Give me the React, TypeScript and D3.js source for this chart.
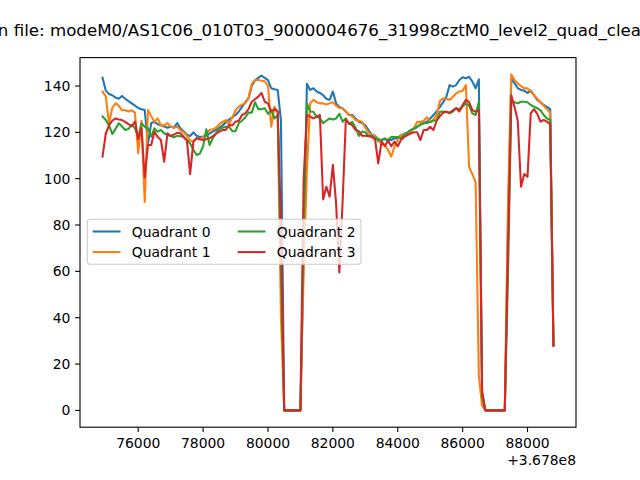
import * as d3 from 'd3'

// light curve: counts per 100 s bin, times relative to the +3.678e8 offset
const timeOffsetLabel = '+3.678e8'
const binStart = 74900
const binSize = 100

const quadrant0 = [
  143.5, 138, 136.5, 136, 135, 134.5, 135.7, 134.5, 133.5, 132.5,
  131.5, 130.5, 130, 129.6, 115, 124, 124.5, 123.5, 123, 122.5,
  122, 122.5, 122, 124, 121.7, 120.5, 119, 118.4, 120, 118.5,
  118, 118.2, 118.5, 119.5, 120.3, 121, 122, 123, 124.3, 125.5,
  126.5, 127.5, 129, 131, 133, 134.7, 140, 142.5, 143.5, 144.5,
  143.5, 142.5, 139, 138.6, 138.3, 125,
  0, 0, 0, 0, 0, 0,
  70, 141, 138.3, 139, 137.6, 137, 136, 134.5, 134, 137.6,
  132.5, 131, 130.4, 129, 127.5, 127.5, 126, 124.6, 124, 123,
  121, 119, 118.5, 117, 116.7, 117, 116.7, 116.7, 117.4, 117.5,
  118.8, 119.3, 120, 121, 121.5, 122.4, 123.5, 124, 124.6, 126,
  127.5, 129, 131, 133, 135.4, 140.4, 139.7, 140.4, 142.6, 143.8,
  143.3, 144, 141.9, 139, 142.9, 8,
  0, 0, 0, 0, 0, 0, 0,
  80, 143, 141.2, 139, 138.3, 138, 137, 138, 136, 134, 133, 131.8, 131, 130, 28,
]

const quadrant1 = [
  137.6, 135.4, 124, 130.5, 132.5, 131.5, 129.5, 129.5, 129, 129.5,
  128.5, 111, 125, 90, 129.6, 127, 124.6, 126, 123, 123,
  124, 122.5, 122, 122.4, 121, 120, 118.5, 116.5, 116, 117.5,
  117, 118, 119.5, 121, 121.3, 122, 123.5, 124.5, 125.3, 123.5,
  126.5, 129.5, 131, 132, 132.5, 134.7, 141, 142.6, 142.6, 142.3,
  142, 140, 122.4, 131, 129, 40,
  0, 0, 0, 0, 0, 0,
  60, 103.7, 132.5, 134, 133, 132.5, 132.5, 132, 132.5, 133,
  131.5, 130.5, 130.4, 129, 127.5, 127, 125.3, 125, 124.6, 122,
  120, 118.8, 118.5, 116, 116, 114.5, 112.4, 109.5, 113.8, 116.7,
  118.8, 119, 119.5, 120, 122, 124.5, 124.5, 125, 126.5, 124.5,
  125.5, 127.5, 133.5, 134.7, 134.5, 134, 135.4, 136.8, 137.6, 137.8,
  140.4, 105, 102, 98.5, 15, 2,
  0, 0, 0, 0, 0, 0, 0,
  90, 145, 142.6, 141, 140, 139, 139, 137.5, 136, 134.5, 133, 131.5, 130, 128.5, 28,
]

const quadrant2 = [
  126.8, 125.3, 123, 119.3, 121.5, 123.9, 122.5, 121, 121.5, 123.2,
  121.7, 117.8, 123.9, 122.4, 121.7, 118.1, 121.7, 120.3, 121, 119.6,
  118.8, 118.5, 117.8, 118.5, 118.3, 118, 116.7, 115.2, 112.5, 110.2,
  110.8, 114, 121.3, 114.5, 117.5, 119.5, 121.5, 122, 122.4, 122.4,
  120.5, 120.5, 124, 125, 126.5, 128.5, 128.5, 133, 130, 130,
  130.4, 128, 129.6, 126, 127.5, 60,
  0, 0, 0, 0, 0, 0,
  80, 132.5, 129, 128.9, 126.8, 126, 124, 125, 126, 125.5,
  126, 128, 124.6, 126, 123.5, 124.5, 122, 118.5, 120.3, 120,
  118.5, 118.5, 117.5, 116.7, 116.7, 117.4, 116.7, 118, 118, 118,
  117.5, 118.8, 119.8, 121, 121.5, 122.5, 123.2, 123.9, 124, 124.5,
  125, 125.3, 128.9, 129, 128.9, 128.2, 129, 130.4, 130, 131.1,
  132.5, 131.5, 128.2, 127.5, 133.2, 6,
  0, 0, 0, 0, 0, 0, 0,
  60, 133, 133, 132.5, 133.2, 133.2, 133, 131.8, 131.1, 130.4, 129.5, 127.5, 126, 125.3, 28,
]

const quadrant3 = [
  109.5, 119.5, 123, 125, 126, 125.5, 125.3, 124.5, 123.5, 122.7,
  124.6, 117, 121.7, 100.5, 114.5, 114.5, 120.3, 118, 116.7, 107.3,
  119.6, 118.4, 119, 119.8, 119.6, 118, 116.5, 102, 116, 117.4,
  117, 116.7, 117, 117.5, 118.3, 119.5, 120.3, 121, 121, 123.2,
  123, 124.6, 125, 127.5, 128.2, 130, 133.2, 134.3, 135.4, 137,
  133.2, 132.5, 129, 130, 129, 80,
  0, 0, 0, 0, 0, 0,
  100, 127.5, 126.8, 126, 126.8, 127.5, 91, 96.5, 92.2, 106,
  89.3, 59.5, 90, 125.3, 124, 123, 121, 120.5, 118.5, 118.5,
  118.3, 118, 117, 106.6, 116, 114, 116.5, 114, 116, 114,
  116.7, 118, 118.8, 119.5, 120, 120, 116.7, 121, 121, 122.4,
  121, 125, 127, 128.5, 128.9, 128.5, 129.5, 130.4, 129, 131.8,
  134, 133, 129.6, 128.9, 129.6, 8,
  0, 0, 0, 0, 0, 0, 0,
  70, 136, 131, 125, 96.5, 102, 100.8, 128.2, 130, 128, 124.6, 125.3, 124.6, 123.5, 28,
]

const series = [quadrant0, quadrant1, quadrant2, quadrant3]
const labels = ['Quadrant 0', 'Quadrant 1', 'Quadrant 2', 'Quadrant 3']
const colors = ['#1f77b4', '#ff7f0e', '#2ca02c', '#d62728']
const xTicks = [76000, 78000, 80000, 82000, 84000, 86000, 88000]
const yTicks = [0, 20, 40, 60, 80, 100, 120, 140]
const title =
  'Plot in file: modeM0/AS1C06_010T03_9000004676_31998cztM0_level2_quad_clean.evt'

const W = 640
const H = 480
const plot = { left: 80, right: 576, top: 57.6, bottom: 427.2 }
const font = '"DejaVu Sans", sans-serif'

const timeOf = (i: number) => binStart + i * binSize

function padded([lo, hi]: [number, number]): [number, number] {
  const m = (hi - lo) * 0.05
  return [lo - m, hi + m]
}

export default function App() {
  const n = quadrant0.length
  const x = d3
    .scaleLinear()
    .domain(padded([timeOf(0), timeOf(n - 1)]))
    .range([plot.left, plot.right])
  const allValues = series.flat()
  const y = d3
    .scaleLinear()
    .domain(padded(d3.extent(allValues) as [number, number]))
    .range([plot.bottom, plot.top])

  const line = d3
    .line<number>()
    .x((_, i) => x(timeOf(i)))
    .y(d => y(d))

  const legendX = 87.3
  const legendY = 219.3
  const rowH = 20.6
  const colW = 145

  return (
    <svg
      width={W}
      height={H}
      style={{ position: 'absolute', left: 0, top: 0, background: '#fff' }}
      fontFamily={font}
    >
      <rect x={0} y={0} width={W} height={H} fill="#fff" />
      <text x={W / 2} y={36} textAnchor="middle" fontSize={16.67}>
        {title}
      </text>

      <g clipPath="url(#plot-clip)">
        {series.map((s, i) => (
          <path
            key={labels[i]}
            d={line(s) ?? ''}
            fill="none"
            stroke={colors[i]}
            strokeWidth={2.08}
            strokeLinejoin="round"
            strokeLinecap="square"
          />
        ))}
      </g>
      <defs>
        <clipPath id="plot-clip">
          <rect
            x={plot.left}
            y={plot.top}
            width={plot.right - plot.left}
            height={plot.bottom - plot.top}
          />
        </clipPath>
      </defs>

      <rect
        x={plot.left}
        y={plot.top}
        width={plot.right - plot.left}
        height={plot.bottom - plot.top}
        fill="none"
        stroke="#000"
        strokeWidth={1.1}
      />

      {xTicks.map(t => (
        <g key={t} transform={`translate(${x(t)},${plot.bottom})`}>
          <line y2={4.86} stroke="#000" strokeWidth={1.1} />
          <text y={20.5} textAnchor="middle" fontSize={13.9}>
            {t}
          </text>
        </g>
      ))}
      <text x={plot.right} y={465} textAnchor="end" fontSize={13.9}>
        {timeOffsetLabel}
      </text>

      {yTicks.map(v => (
        <g key={v} transform={`translate(${plot.left},${y(v)})`}>
          <line x2={-4.86} stroke="#000" strokeWidth={1.1} />
          <text x={-9.7} y={5} textAnchor="end" fontSize={13.9}>
            {v}
          </text>
        </g>
      ))}

      <g transform={`translate(${legendX},${legendY})`}>
        <rect
          width={273.7}
          height={45}
          rx={2.8}
          fill="#fff"
          fillOpacity={0.8}
          stroke="#cccccc"
          strokeWidth={1.1}
        />
        {labels.map((label, i) => {
          const col = Math.floor(i / 2)
          const row = i % 2
          const cy = 12.2 + row * rowH
          const cx = 5.4 + col * colW
          return (
            <g key={label} transform={`translate(${cx},${cy})`}>
              <line x2={27.8} stroke={colors[i]} strokeWidth={2.08} />
              <text x={39} y={5} fontSize={13.9}>
                {label}
              </text>
            </g>
          )
        })}
      </g>
    </svg>
  )
}
